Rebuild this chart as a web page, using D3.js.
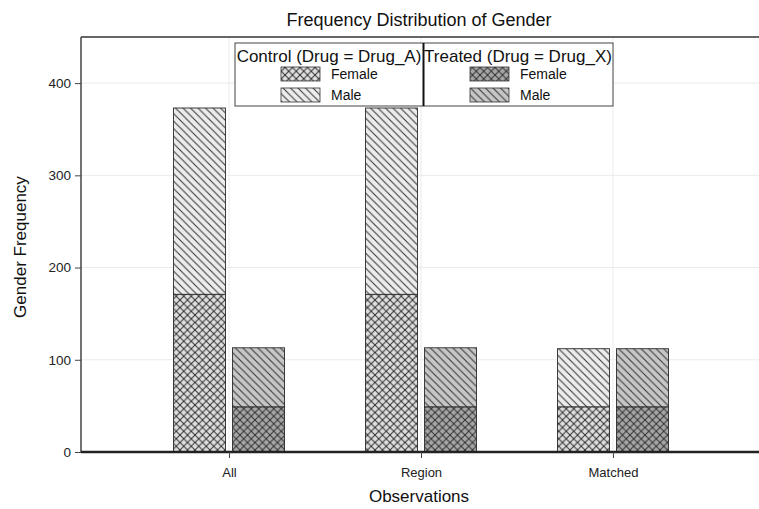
<!DOCTYPE html>
<html lang="en">
<head>
<meta charset="UTF-8" />
<title>Frequency Distribution of Gender</title>
<script src="https://d3js.org/d3.v7.min.js"></script>
<style>
  body { margin: 0; background: #fff; }
  svg { display: block; font-family: "Liberation Sans", Arial, sans-serif; }
</style>
</head>
<body>
<svg width="759" height="509"></svg>
<script>
// data
const categories = ["All", "Region", "Matched"];
const groups = ["Control", "Treated"];
const controlFemale = [171, 171, 49];
const controlMale   = [202, 202, 63];
const treatedFemale = [49, 49, 49];
const treatedMale   = [64, 64, 63];
const yTicks = [0, 100, 200, 300, 400];

const svg = d3.select("svg");
const m = { left: 81, top: 37, right: 761, bottom: 452 };

const x = d3.scalePoint().domain(categories).range([m.left, m.right]).padding(0.771);
const y = d3.scaleLinear().domain([0, 450]).range([m.bottom, m.top]);
const barW = 52, gap = 7;

// patterns
const defs = svg.append("defs");
function hatch(id, bg, cross) {
  const p = defs.append("pattern").attr("id", id)
    .attr("patternUnits", "userSpaceOnUse").attr("width", 7.5).attr("height", 7.5);
  p.append("rect").attr("width", 7.5).attr("height", 7.5).attr("fill", bg);
  p.append("path").attr("d", "M-1,-1 L8.5,8.5 M-1,6.5 L1,8.5 M6.5,-1 L8.5,1")
    .attr("stroke", "#333").attr("stroke-width", 1).attr("fill", "none");
  if (cross) {
    p.append("path").attr("d", "M-1,8.5 L8.5,-1 M-1,1 L1,-1 M6.5,8.5 L8.5,6.5")
      .attr("stroke", "#333").attr("stroke-width", 1).attr("fill", "none");
  }
}
hatch("cf", "#dedede", true);
hatch("cm", "#ececec", false);
hatch("tf", "#a6a6a6", true);
hatch("tm", "#c6c6c6", false);

// gridlines
svg.append("g").selectAll("line").data(yTicks.filter(d => d > 0)).join("line")
  .attr("x1", m.left).attr("x2", 759).attr("y1", d => y(d)).attr("y2", d => y(d))
  .attr("stroke", "#ebebeb");
svg.append("g").selectAll("line").data(categories).join("line")
  .attr("x1", d => x(d)).attr("x2", d => x(d)).attr("y1", m.top).attr("y2", m.bottom)
  .attr("stroke", "#ebebeb");

// bars
const series = [
  { g: 0, lo: categories.map(() => 0), v: controlFemale, fill: "url(#cf)" },
  { g: 0, lo: controlFemale, v: controlMale, fill: "url(#cm)" },
  { g: 1, lo: categories.map(() => 0), v: treatedFemale, fill: "url(#tf)" },
  { g: 1, lo: treatedFemale, v: treatedMale, fill: "url(#tm)" }
];
series.forEach(s => {
  svg.append("g").selectAll("rect").data(categories).join("rect")
    .attr("x", (d) => s.g === 0 ? x(d) - gap / 2 - barW : x(d) + gap / 2)
    .attr("width", barW)
    .attr("y", (d, i) => y(s.lo[i] + s.v[i]))
    .attr("height", (d, i) => y(s.lo[i]) - y(s.lo[i] + s.v[i]))
    .attr("fill", s.fill)
    .attr("stroke", "#2a2a2a").attr("stroke-width", 0.9);
});

// frame
svg.append("line").attr("x1", m.left).attr("x2", 759).attr("y1", m.top).attr("y2", m.top)
  .attr("stroke", "#666").attr("stroke-width", 2);

// axes
const yAxis = svg.append("g").attr("transform", `translate(${m.left},0)`)
  .call(d3.axisLeft(y).tickValues(yTicks).tickSize(6).tickPadding(4));
yAxis.attr("font-family", null).attr("font-size", 13.5);
yAxis.select(".domain").attr("stroke", "#444").attr("stroke-width", 1.5)
  .attr("d", `M0,${m.top}V${m.bottom}`);
yAxis.selectAll(".tick line").attr("stroke", "#444");
yAxis.selectAll("text").attr("fill", "#222");

const xAxis = svg.append("g").attr("transform", `translate(0,${m.bottom})`)
  .call(d3.axisBottom(x).tickSize(6).tickPadding(10));
xAxis.attr("font-family", null).attr("font-size", 13);
xAxis.select(".domain").attr("stroke", "#222").attr("stroke-width", 2.5)
  .attr("d", `M${m.left},0H759`);
xAxis.selectAll(".tick line").attr("stroke", "#444");
xAxis.selectAll("text").attr("fill", "#222");

// titles
svg.append("text").attr("x", 419).attr("y", 26).attr("text-anchor", "middle")
  .attr("font-size", 18).attr("fill", "#111").text("Frequency Distribution of Gender");
svg.append("text").attr("x", 419).attr("y", 502).attr("text-anchor", "middle")
  .attr("font-size", 17).attr("fill", "#111").text("Observations");
svg.append("text").attr("transform", "translate(26,247) rotate(-90)").attr("text-anchor", "middle")
  .attr("font-size", 17).attr("fill", "#111").text("Gender Frequency");

// legend
const lg = svg.append("g");
lg.append("rect").attr("x", 235).attr("y", 43).attr("width", 378).attr("height", 63)
  .attr("fill", "#fff").attr("stroke", "#444").attr("stroke-width", 1);
lg.append("line").attr("x1", 423.5).attr("x2", 423.5).attr("y1", 43).attr("y2", 106)
  .attr("stroke", "#111").attr("stroke-width", 2);
const legTitles = ["Control (Drug = Drug_A)", "Treated (Drug = Drug_X)"];
const legFills = [["url(#cf)", "url(#cm)"], ["url(#tf)", "url(#tm)"]];
const legLabels = ["Female", "Male"];
groups.forEach((g, gi) => {
  const x0 = 235 + gi * 189;
  lg.append("text").attr("x", x0 + 94).attr("y", 62).attr("text-anchor", "middle")
    .attr("font-size", 17).attr("fill", "#111").text(legTitles[gi]);
  legLabels.forEach((l, li) => {
    const yy = 67 + li * 21;
    lg.append("rect").attr("x", x0 + 46).attr("y", yy).attr("width", 39).attr("height", 14)
      .attr("fill", legFills[gi][li]).attr("stroke", "#333").attr("stroke-width", 0.8);
    lg.append("text").attr("x", x0 + 96).attr("y", yy + 12)
      .attr("font-size", 14).attr("fill", "#111").text(l);
  });
});
</script>
</body>
</html>
